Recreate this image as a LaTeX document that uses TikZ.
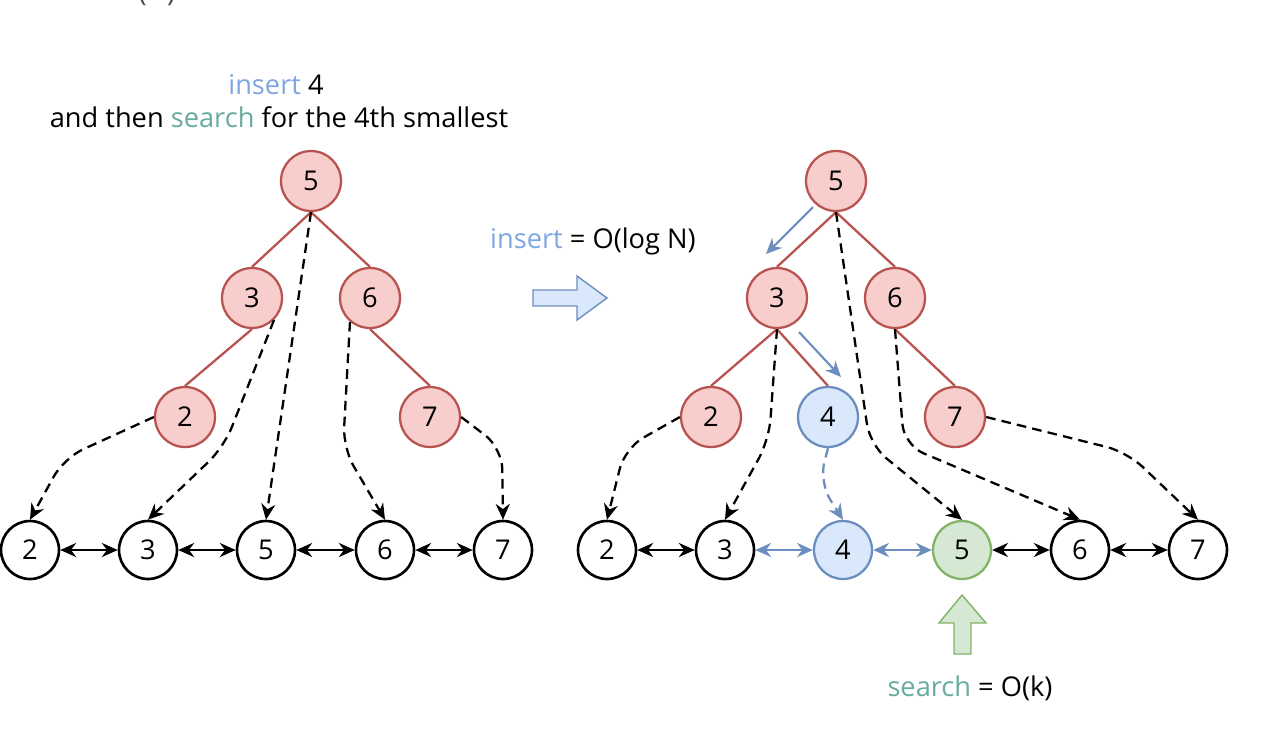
\documentclass[tikz,border=0pt]{standalone}
\usepackage{fontspec}
\setmainfont{Open Sans}
\usetikzlibrary{arrows.meta}
\definecolor{redfill}{HTML}{F8CECC}
\definecolor{reddraw}{HTML}{B85450}
\definecolor{bluefill}{HTML}{DAE8FC}
\definecolor{bluedraw}{HTML}{6C8EBF}
\definecolor{greenfill}{HTML}{D5E8D4}
\definecolor{greendraw}{HTML}{82B366}
\definecolor{inserttext}{HTML}{7EA6E0}
\definecolor{searchtext}{HTML}{67AB9F}

\begin{document}
\begin{tikzpicture}[>={Stealth[length=9pt,width=8pt]},x=0.02cm,y=-0.02cm,
	font=\fontsize{15.5}{18}\selectfont,
	treenode/.style={circle,draw=reddraw,fill=redfill,line width=1.3pt,minimum size=1.2cm,inner sep=0pt},
	newnode/.style={circle,draw=bluedraw,fill=bluefill,line width=1.3pt,minimum size=1.2cm,inner sep=0pt},
	foundnode/.style={circle,draw=greendraw,fill=greenfill,line width=1.3pt,minimum size=1.16cm,inner sep=0pt},
	listnode/.style={circle,draw,line width=1.5pt,minimum size=1.16cm,inner sep=0pt},
	treeedge/.style={draw=reddraw,line width=1.3pt},
	thread/.style={->,dash pattern=on 5.5pt off 3.5pt,line width=1.3pt,rounded corners=12pt},
	link/.style={<->,line width=1.5pt},
	path/.style={->,draw=bluedraw,line width=1.2pt,>={Stealth[length=9pt,width=8pt]}},
	blockarrow/.style={line width=0.8pt}
	]
	\useasboundingbox (0,0) rectangle (1262,752);

	% cut-off text at the top edge
	\node[text=black!70] (cut) at (157,-6) {(\hphantom{N})};

	% captions
	\node (title1) at (276,85) {\textcolor{inserttext}{insert} 4};
	\node (title2) at (279,117) {and then \textcolor{searchtext}{search} for the 4th smallest};
	\node (inscost) at (593,241) {\textcolor{inserttext}{insert} = O(log N)};
	\node (searchcost) at (970,688) {\textcolor{searchtext}{search} = O(k)};

	% left tree
	\node[treenode] (t5) at (311,181) {5};
	\node[treenode] (t3) at (252,298) {3};
	\node[treenode] (t6) at (370,298) {6};
	\node[treenode] (t2) at (185,417) {2};
	\node[treenode] (t7) at (430,417) {7};
	\draw[treeedge] (t5.south) -- (t3.north);
	\draw[treeedge] (t5.south) -- (t6.north);
	\draw[treeedge] (t3.south) -- (t2.north);
	\draw[treeedge] (t6.south) -- (t7.north);

	% left list
	\node[listnode] (l2) at (30,550) {2};
	\node[listnode] (l3) at (148,550) {3};
	\node[listnode] (l5) at (266,550) {5};
	\node[listnode] (l6) at (385,550) {6};
	\node[listnode] (l7) at (503,550) {7};
	\draw[link] (l2) -- (l3);
	\draw[link] (l3) -- (l5);
	\draw[link] (l5) -- (l6);
	\draw[link] (l6) -- (l7);

	\draw[thread] (t2.west) -- (64,458) -- (l2.north);
	\draw[thread] (t3.-45) -- (224,447) -- (l3.north);
	\draw[thread] (t5.south) -- (l5.north);
	\draw[thread] (t6.-130) -- (343,448) -- (l6.north);
	\draw[thread] (t7.east) -- (502,448) -- (l7.north);

	% block arrow
	\draw[blockarrow,draw=bluedraw,fill=bluefill] (533,290) -- (577,290) -- (577,276) -- (607,298)
		-- (577,320) -- (577,306) -- (533,306) -- cycle;

	% right tree
	\node[treenode] (r5) at (836,181) {5};
	\node[treenode] (r3) at (777,298) {3};
	\node[treenode] (r6) at (895,298) {6};
	\node[treenode] (r2) at (711,417) {2};
	\node[newnode] (r4) at (828,417) {4};
	\node[treenode] (r7) at (955,417) {7};
	\draw[treeedge] (r5.south) -- (r3.north);
	\draw[treeedge] (r5.south) -- (r6.north);
	\draw[treeedge] (r3.south) -- (r2.north);
	\draw[treeedge] (r3.south) -- (r4.north);
	\draw[treeedge] (r6.south) -- (r7.north);

	% insertion path
	\coordinate (p1s) at (813,207);
	\coordinate (p1e) at (766,254);
	\coordinate (p2s) at (799,332);
	\coordinate (p2e) at (841,377);
	\draw[path] (p1s) -- (p1e);
	\draw[path] (p2s) -- (p2e);

	% right list
	\node[listnode] (m2) at (607,550) {2};
	\node[listnode] (m3) at (725,550) {3};
	\node[newnode,minimum size=1.16cm] (m4) at (843,550) {4};
	\node[foundnode] (m5) at (962,550) {5};
	\node[listnode] (m6) at (1080,550) {6};
	\node[listnode] (m7) at (1198,550) {7};
	\draw[link] (m2) -- (m3);
	\draw[link,draw=bluedraw] (m3) -- (m4);
	\draw[link,draw=bluedraw] (m4) -- (m5);
	\draw[link] (m5) -- (m6);
	\draw[link] (m6) -- (m7);

	\draw[thread] (r2.west) -- (625,448) -- (m2.north);
	\draw[thread] (r3.south) -- (769,440) -- (m3.north);
	\draw[thread,draw=bluedraw] (r4.south) -- (819,482) -- (m4.north);
	\draw[thread] (r5.south) -- (870,445) -- (m5.north);
	\draw[thread] (r6.south) -- (904,445) -- (m6.north);
	\draw[thread] (r7.east) -- (1127,452) -- (m7.north);

	% search arrow
	\draw[blockarrow,draw=greendraw,fill=greenfill] (962,595) -- (986,623) -- (971,623) -- (971,654)
		-- (954,654) -- (954,623) -- (939,623) -- cycle;
\end{tikzpicture}
\end{document}
